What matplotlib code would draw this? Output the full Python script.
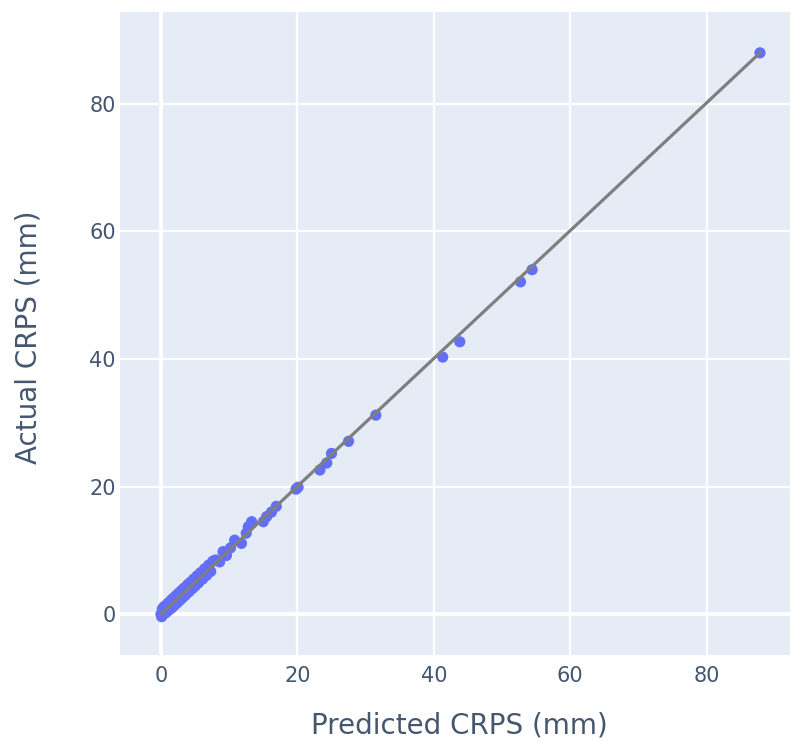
import matplotlib
matplotlib.use("Agg")
import matplotlib.pyplot as plt

predicted = [0.0, 0.1, 0.2, 0.3, 0.4, 0.5, 0.6, 0.8, 1.0, 1.1, 1.3, 1.5, 1.6, 1.8,
             2.0, 2.2, 2.4, 2.6, 2.8, 3.0, 3.2, 3.4, 3.6, 3.9, 4.1, 4.3, 4.6, 4.8,
             5.0, 5.3, 5.5, 5.8, 6.1, 6.4, 6.7, 7.0, 7.3, 7.6, 8.0, 8.6, 9.1, 9.6,
             10.2, 10.8, 11.8, 12.5, 12.8, 13.3, 15.0, 15.5, 16.2, 16.9, 19.8, 20.1,
             23.3, 24.3, 25.0, 27.5, 31.5, 41.3, 43.8, 52.7, 54.4, 87.8]
actual = [0.0, -0.4, 0.8, 0.0, 1.1, 0.1, 1.3, 0.3, 1.7, 0.6, 0.8, 2.2, 1.0, 2.5,
          1.4, 2.9, 1.8, 3.3, 2.2, 3.7, 2.6, 4.1, 3.0, 4.6, 3.5, 5.0, 4.0, 5.5,
          4.4, 6.0, 4.9, 6.5, 5.5, 7.1, 6.1, 7.7, 6.7, 8.3, 8.5, 8.2, 9.8, 9.2,
          10.4, 11.6, 11.1, 12.7, 13.7, 14.5, 14.5, 15.3, 16.0, 16.9, 19.6, 19.9,
          22.6, 23.7, 25.2, 27.1, 31.2, 40.3, 42.7, 52.1, 54.0, 88.0]
line_x = [0.0, 87.8]
line_y = [0.0, 88.0]
xticks = [0, 20, 40, 60, 80]
yticks = [0, 20, 40, 60, 80]

plt.rcParams['font.family'] = ['DejaVu Sans']
fig = plt.figure(figsize=(7.91, 7.43), dpi=100)
ax = fig.add_axes([120/791, 1-655/743, 670/791, 643/743])
ax.set_facecolor('#E5ECF6')
for s in ax.spines.values():
    s.set_visible(False)

ax.set_xlim(-6.0, 92.2)
ax.set_ylim(-6.4, 94.4)
ax.set_xticks(xticks)
ax.set_yticks(yticks)
ax.grid(True, color='white', linewidth=1.6)
ax.set_axisbelow(True)
ax.axhline(0, color='white', linewidth=2.8, zorder=0.5)
ax.axvline(0, color='white', linewidth=2.8, zorder=0.5)

ax.scatter(predicted, actual, s=65, color='#636efa', edgecolors='none', zorder=2)
ax.plot(line_x, line_y, color='#7f7f7f', linewidth=2.3, zorder=3)

txt = '#45566f'
ax.tick_params(length=0, labelsize=15, labelcolor=txt)
ax.tick_params(axis='x', pad=8)
ax.tick_params(axis='y', pad=3)
ax.set_xlabel('Predicted CRPS (mm)', fontsize=20, color=txt)
ax.set_ylabel('Actual CRPS (mm)', fontsize=20, color=txt)
ax.xaxis.set_label_coords(0.507, -0.088)
ax.yaxis.set_label_coords(-0.115, 0.494)

fig.savefig('out.png', dpi=100)
